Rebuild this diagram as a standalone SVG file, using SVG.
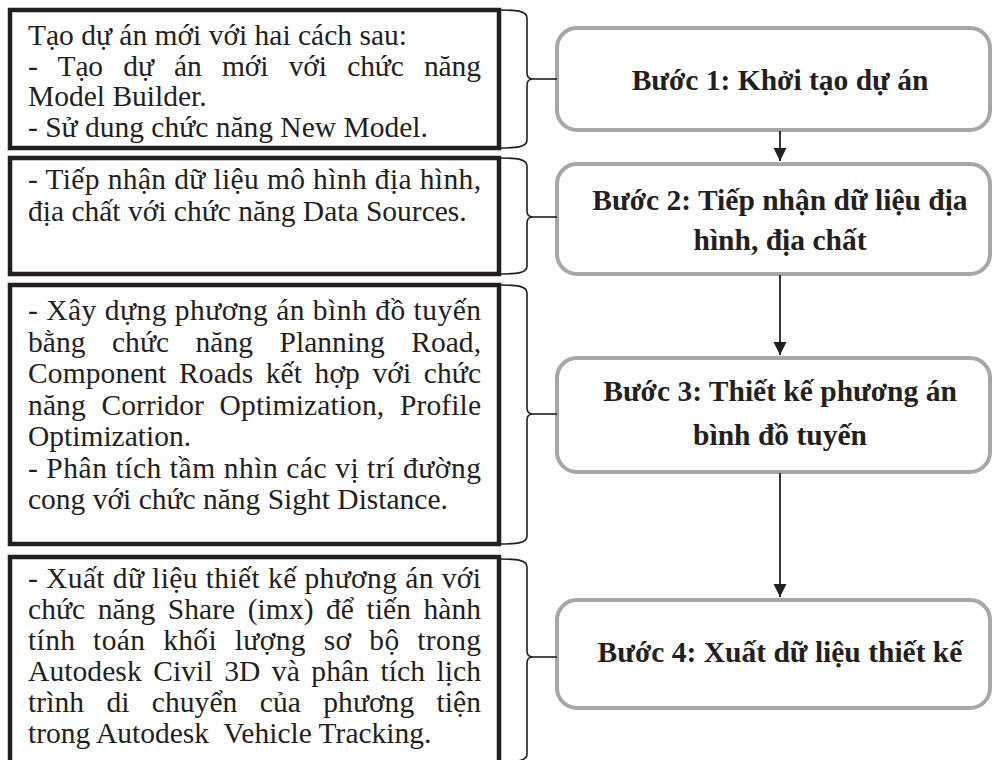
<svg xmlns="http://www.w3.org/2000/svg" width="992" height="760" viewBox="0 0 992 760">
<style>
.lbox{fill:#fff;stroke:#231f20;stroke-width:4.5}
.rbox{fill:#fff;stroke:#a7a7a7;stroke-width:4}
.t{font-family:"Liberation Serif","Times New Roman",serif;font-size:29.5px;fill:#231f20}
.b{font-family:"Liberation Serif","Times New Roman",serif;font-size:29.5px;font-weight:bold;fill:#231f20;text-anchor:middle}
.br{fill:none;stroke:#231f20;stroke-width:1.6}
.ar{fill:none;stroke:#231f20;stroke-width:1.8}
</style>
<defs>
<marker id="ah" viewBox="0 0 10 10" refX="10" refY="5" markerWidth="7.5" markerHeight="7.5" markerUnits="strokeWidth" orient="auto">
<path d="M0,0 L10,5 L0,10 Z" fill="#231f20"/>
</marker>
</defs>
<rect width="992" height="760" fill="#fff"/>

<g id="desc1">
<rect class="lbox" x="10" y="10" width="489" height="138"/>
<text class="t" x="28" y="45">Tạo dự án mới với hai cách sau:</text>
<text class="t" x="28" y="76" word-spacing="13" textLength="453">- Tạo dự án mới với chức năng</text>
<text class="t" x="28" y="106">Model Builder.</text>
<text class="t" x="28" y="137">- Sử dung chức năng New Model.</text>
</g>

<g id="desc2">
<rect class="lbox" x="10" y="158" width="489" height="116"/>
<text class="t" x="28" y="189" textLength="453">- Tiếp nhận dữ liệu mô hình địa hình,</text>
<text class="t" x="28" y="221">địa chất với chức năng Data Sources.</text>
</g>

<g id="desc3">
<rect class="lbox" x="10" y="285" width="489" height="259"/>
<text class="t" x="28" y="320" textLength="453">- Xây dựng phương án bình đồ tuyến</text>
<text class="t" x="28" y="351.5" word-spacing="19" textLength="453">bằng chức năng Planning Road,</text>
<text class="t" x="28" y="383" word-spacing="5" textLength="453">Component Roads kết hợp với chức</text>
<text class="t" x="28" y="414.5" word-spacing="8" textLength="453">năng Corridor Optimization, Profile</text>
<text class="t" x="28" y="446">Optimization.</text>
<text class="t" x="28" y="477.5" textLength="453">- Phân tích tầm nhìn các vị trí đường</text>
<text class="t" x="28" y="509">cong với chức năng Sight Distance.</text>
</g>

<g id="desc4">
<rect class="lbox" x="10" y="557" width="489" height="230"/>
<text class="t" x="28" y="588" textLength="453">- Xuất dữ liệu thiết kế phương án với</text>
<text class="t" x="28" y="619" word-spacing="5" textLength="453">chức năng Share (imx) để tiến hành</text>
<text class="t" x="28" y="650" word-spacing="10" textLength="453">tính toán khối lượng sơ bộ trong</text>
<text class="t" x="28" y="681" word-spacing="4" textLength="453">Autodesk Civil 3D và phân tích lịch</text>
<text class="t" x="28" y="712" word-spacing="15" textLength="453">trình di chuyển của phương tiện</text>
<text class="t" x="28" y="743" xml:space="preserve">trong Autodesk  Vehicle Tracking.</text>
</g>

<g id="step1">
<rect class="rbox" x="557" y="28" width="433" height="102" rx="20"/>
<text class="b" x="780" y="90">Bước 1: Khởi tạo dự án</text>
</g>

<g id="step2">
<rect class="rbox" x="557" y="164" width="433" height="110" rx="20"/>
<text class="b" x="780" y="210">Bước 2: Tiếp nhận dữ liệu địa</text>
<text class="b" x="780" y="250">hình, địa chất</text>
</g>

<g id="step3">
<rect class="rbox" x="557" y="358" width="433" height="114" rx="20"/>
<text class="b" x="780" y="401">Bước 3: Thiết kế phương án</text>
<text class="b" x="780" y="445">bình đồ tuyến</text>
</g>

<g id="step4">
<rect class="rbox" x="557" y="600" width="433" height="108" rx="20"/>
<text class="b" x="780" y="662">Bước 4: Xuất dữ liệu thiết kế</text>
</g>

<g id="connectors">
<path class="br" d="M500,10 C517,10 527,11 527,18 L527,73 C527,77 529,79 533,79 C529,79 527,81 527,85 L527,140 C527,147 517,148 500,148"/>
<path class="br" d="M533,79 H557"/>
<path class="br" d="M500,158 C517,158 527,159 527,166 L527,211 C527,215 529,217 533,217 C529,217 527,219 527,223 L527,266 C527,273 517,274 500,274"/>
<path class="br" d="M533,217 H557"/>
<path class="br" d="M500,285 C517,285 527,286 527,293 L527,408 C527,412 529,414 533,414 C529,414 527,416 527,420 L527,536 C527,543 517,544 500,544"/>
<path class="br" d="M533,414 H557"/>
<path class="br" d="M500,559 C517,559 527,560 527,567 L527,651 C527,655 529,657 533,657 C529,657 527,659 527,663 L527,754 C527,761 517,762 500,762"/>
<path class="br" d="M533,657 H557"/>
<path class="ar" d="M780,131 V161" marker-end="url(#ah)"/>
<path class="ar" d="M780,275 V355" marker-end="url(#ah)"/>
<path class="ar" d="M780,473 V597" marker-end="url(#ah)"/>
</g>
</svg>
